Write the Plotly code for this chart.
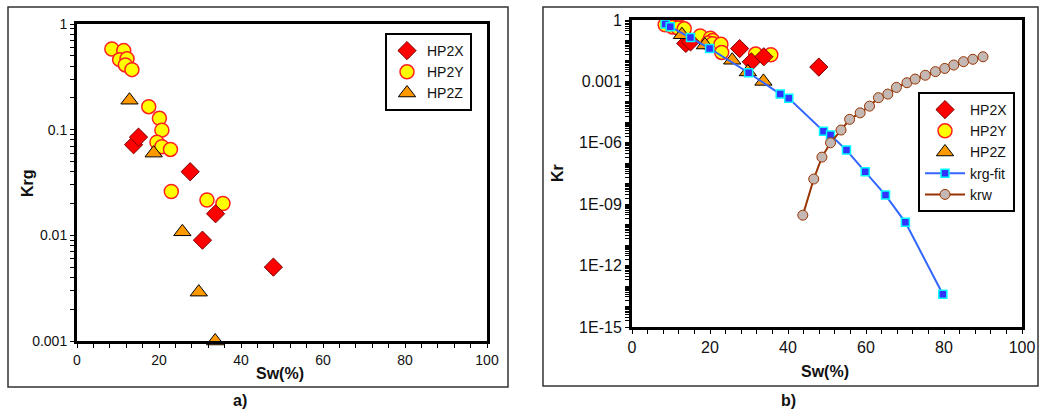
import plotly.graph_objects as go

# ---------------- data ----------------
hp2x_sw = [13.8, 15.0, 27.6, 30.6, 33.8, 47.9]
hp2x_k = [0.072, 0.085, 0.040, 0.009, 0.016, 0.005]

hp2y_sw = [8.5, 11.4, 10.4, 12.2, 11.8, 13.4, 17.5, 20.1, 20.7, 19.5, 20.7, 22.8, 23.0, 31.7, 35.6]
hp2y_k = [0.58, 0.56, 0.46, 0.47, 0.41, 0.37, 0.165, 0.128, 0.099, 0.076, 0.069, 0.065, 0.026, 0.0216, 0.020]

hp2z_sw = [12.8, 18.7, 25.7, 29.7, 33.7]
hp2z_k = [0.19, 0.060, 0.0108, 0.0029, 0.001]

fit_sw = [8.5, 9.8, 15.0, 19.9, 29.9, 38.0, 40.2, 49.1, 50.9, 55.0, 59.8, 65.0, 70.1, 79.7]
fit_k = [0.64, 0.47, 0.14, 0.041, 0.00265, 2.4e-4, 1.5e-4, 3.7e-6, 2.4e-6, 4.4e-7, 3.8e-8, 2.8e-9, 1.3e-10, 4e-14]

krw_sw = [43.8, 46.6, 48.7, 50.9, 53.6, 55.8, 58.5, 60.9, 63.2, 65.6, 67.8, 70.5, 72.6, 75.2,
          77.8, 80.2, 82.5, 85.0, 87.4, 90.0]
krw_k = [2.9e-10, 1.7e-8, 2e-7, 1.0e-6, 4.2e-6, 1.4e-5, 2.9e-5, 6.2e-5, 1.6e-4, 2.4e-4, 5.1e-4,
         8.6e-4, 1.3e-3, 2.0e-3, 3.0e-3, 4.3e-3, 6.3e-3, 9.2e-3, 1.2e-2, 1.6e-2]

x_major_labels = {0: "0", 20: "20", 40: "40", 60: "60", 80: "80", 100: "100"}
left_y_labels = {-3: "0.001", -2: "0.01", -1: "0.1", 0: "1"}
right_y_labels = {-15: "1E-15", -12: "1E-12", -9: "1E-09", -6: "1E-06", -3: "0.001", 0: "1"}

W, H = 1039, 412
FONT = "Liberation Sans, Arial, sans-serif"


def px_x(p):
    return p / W


def px_y(p):
    return 1 - p / H


# tick positions (major labelled, minor unlabelled)
x_tickvals = list(range(0, 101, 4))
x_ticktext = [x_major_labels.get(v, "") for v in x_tickvals]


def log_ticks(lo, hi, labels):
    vals, texts = [], []
    for e in range(lo, hi + 1):
        for k in range(1, 10):
            if e == hi and k > 1:
                break
            vals.append(k * 10.0 ** e)
            texts.append(labels.get(e, "") if k == 1 else "")
    return vals, texts


left_tv, left_tt = log_ticks(-3, 0, left_y_labels)
right_tv, right_tt = log_ticks(-15, 0, right_y_labels)

fig = go.Figure()

x_style = dict(marker=dict(symbol="diamond", size=14, color="#ff0000", line=dict(color="#7a0000", width=1)))
y_style = dict(marker=dict(symbol="circle", size=14, color="#ffff00", line=dict(color="#ff2020", width=1.5)))
z_style = dict(marker=dict(symbol="triangle-up", size=15, color="#ff9900", line=dict(color="#000000", width=1)))

# left panel
fig.add_trace(go.Scatter(x=hp2y_sw, y=hp2y_k, mode="markers", name="HP2Y", xaxis="x", yaxis="y",
                         legend="legend", cliponaxis=False, legendrank=2, **y_style))
fig.add_trace(go.Scatter(x=hp2x_sw, y=hp2x_k, mode="markers", name="HP2X", xaxis="x", yaxis="y",
                         legend="legend", cliponaxis=False, legendrank=1, **x_style))
fig.add_trace(go.Scatter(x=hp2z_sw, y=hp2z_k, mode="markers", name="HP2Z", xaxis="x", yaxis="y",
                         legend="legend", cliponaxis=False, legendrank=3, **z_style))

# right panel
fig.add_trace(go.Scatter(x=hp2y_sw, y=hp2y_k, mode="markers", name="HP2Y", xaxis="x2", yaxis="y2",
                         legend="legend2", cliponaxis=False, legendrank=2, **y_style))
fig.add_trace(go.Scatter(x=hp2x_sw, y=hp2x_k, mode="markers", name="HP2X", xaxis="x2", yaxis="y2",
                         legend="legend2", cliponaxis=False, legendrank=1, **x_style))
fig.add_trace(go.Scatter(x=hp2z_sw, y=hp2z_k, mode="markers", name="HP2Z", xaxis="x2", yaxis="y2",
                         legend="legend2", cliponaxis=False, legendrank=3, **z_style))
fig.add_trace(go.Scatter(x=fit_sw, y=fit_k, mode="lines+markers", name="krg-fit", xaxis="x2", yaxis="y2",
                         legend="legend2", cliponaxis=False, legendrank=4,
                         line=dict(color="#3366ff", width=2),
                         marker=dict(symbol="square", size=8, color="#3333ff", line=dict(color="#00ffff", width=1.5))))
fig.add_trace(go.Scatter(x=krw_sw, y=krw_k, mode="lines+markers", name="krw", xaxis="x2", yaxis="y2",
                         legend="legend2", cliponaxis=False, legendrank=5,
                         line=dict(color="#993300", width=2),
                         marker=dict(symbol="circle", size=10, color="#c4b8b4", line=dict(color="#993300", width=1))))

axis_common = dict(showline=True, linewidth=3, linecolor="#000000", mirror=True, showgrid=False,
                   zeroline=False, ticks="outside", ticklen=4, tickwidth=1.2, tickcolor="#000000",
                   automargin=False, tickmode="array")

fig.update_layout(
    template="none",
    width=W, height=H, autosize=False,
    margin=dict(l=0, r=0, t=0, b=0, pad=0),
    paper_bgcolor="white", plot_bgcolor="white",
    font=dict(family=FONT, color="#111111"),
    xaxis=dict(domain=[px_x(77), px_x(487)], anchor="y", range=[0, 100],
               tickvals=x_tickvals, ticktext=x_ticktext, tickfont=dict(size=14), **axis_common),
    yaxis=dict(domain=[px_y(341), px_y(24)], anchor="x", type="log", range=[-3, 0],
               tickvals=left_tv, ticktext=left_tt, tickfont=dict(size=14), **axis_common),
    xaxis2=dict(domain=[px_x(632), px_x(1022)], anchor="y2", range=[0, 100],
                tickvals=x_tickvals, ticktext=x_ticktext, tickfont=dict(size=16), **axis_common),
    yaxis2=dict(domain=[px_y(327), px_y(20)], anchor="x2", type="log", range=[-15, 0],
                tickvals=right_tv, ticktext=right_tt, tickfont=dict(size=16), **axis_common),
    legend=dict(x=px_x(472), y=px_y(33), xanchor="right", yanchor="top", bgcolor="white",
                bordercolor="black", borderwidth=2, font=dict(size=14), itemwidth=30,
                tracegroupgap=0, traceorder="normal"),
    legend2=dict(x=px_x(918), y=px_y(92), xanchor="left", yanchor="top", bgcolor="white",
                 bordercolor="black", borderwidth=2, font=dict(size=14), itemwidth=40,
                 tracegroupgap=0, traceorder="normal"),
    showlegend=True,
)

# outer frames of the two panels
fig.add_shape(type="rect", xref="paper", yref="paper", x0=px_x(8), x1=px_x(508), y0=px_y(387), y1=px_y(7),
              line=dict(color="#333333", width=1.5), layer="below")
fig.add_shape(type="rect", xref="paper", yref="paper", x0=px_x(543), x1=px_x(1038), y0=px_y(386), y1=px_y(7),
              line=dict(color="#333333", width=1.5), layer="below")

ann = [
    dict(text="<b>Sw(%)</b>", x=px_x(280), y=px_y(373), font=dict(size=16)),
    dict(text="<b>Sw(%)</b>", x=px_x(825), y=px_y(371), font=dict(size=16)),
    dict(text="<b>Krg</b>", x=px_x(27), y=px_y(183), font=dict(size=16), textangle=-90),
    dict(text="<b>Kr</b>", x=px_x(558), y=px_y(173), font=dict(size=16), textangle=-90),
    dict(text="<b>a)</b>", x=px_x(240), y=px_y(400), font=dict(size=16)),
    dict(text="<b>b)</b>", x=px_x(788), y=px_y(400), font=dict(size=16)),
]
for a in ann:
    fig.add_annotation(xref="paper", yref="paper", xanchor="center", yanchor="middle", showarrow=False, **a)

fig.write_html("out.html", config={"displayModeBar": False},
               post_script="document.body.style.margin='0px';document.body.style.overflow='hidden';")
